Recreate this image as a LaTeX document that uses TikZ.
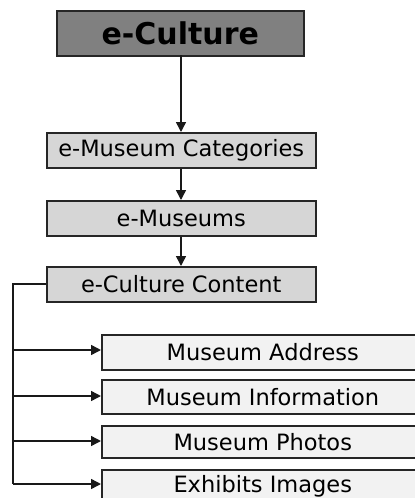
\documentclass[tikz,border=0pt]{standalone}
\usepackage{fontspec}
\setmainfont{DejaVu Sans}
\usetikzlibrary{arrows.meta}
\begin{document}
\begin{tikzpicture}[x=1pt,y=-1pt,
  box/.style={draw=black!85, line width=1.5pt, inner sep=0pt, anchor=north west},
  mid/.style={box, fill=black!16, font=\fontsize{22.5}{24}\selectfont},
  leaf/.style={box, fill=black!5, font=\fontsize{22.5}{24}\selectfont},
  conn/.style={line width=1.5pt, black!90, -{Triangle[length=10pt,width=10pt]}},
  plain/.style={line width=1.5pt, black!90}]
\useasboundingbox (0,0) rectangle (415,498);
\clip (0,0) rectangle (415,498);
\fill[white] (0,0) rectangle (415,498);
\node[box, fill=black!50, minimum width=247pt, minimum height=45pt, font=\bfseries\fontsize{30}{32}\selectfont] (top) at (56,10) {e-Culture};
\node[mid, minimum width=269pt, minimum height=35pt] (cat) at (46,132) {e-Museum Categories};
\node[mid, minimum width=269pt, minimum height=35pt] (mus) at (46,200) {e-Museums};
\node[mid, minimum width=269pt, minimum height=35pt] (con) at (46,266) {e-Culture Content};
\node[leaf, minimum width=322pt, minimum height=35pt] (adr) at (101,334) {Museum Address};
\node[leaf, minimum width=322pt, minimum height=34pt] (inf) at (101,379) {Museum Information};
\node[leaf, minimum width=322pt, minimum height=32pt] (pho) at (101,425) {Museum Photos};
\node[leaf, minimum width=322pt, minimum height=34pt] (exh) at (101,469) {Exhibits Images};
\coordinate (c0) at (181,55);
\draw[conn] (c0) -- (c0 |- cat.north);
\draw[conn] (c0 |- cat.south) -- (c0 |- mus.north);
\draw[conn] (c0 |- mus.south) -- (c0 |- con.north);
\coordinate (bus) at (13,284);
\coordinate (busend) at (13,484);
\draw[plain] (con.west |- bus) -- (bus) -- (busend);
\draw[conn] (13,350) -- (adr.west |- 0,350);
\draw[conn] (13,396) -- (inf.west |- 0,396);
\draw[conn] (13,441) -- (pho.west |- 0,441);
\draw[conn] (busend) -- (exh.west |- busend);
\end{tikzpicture}
\end{document}
